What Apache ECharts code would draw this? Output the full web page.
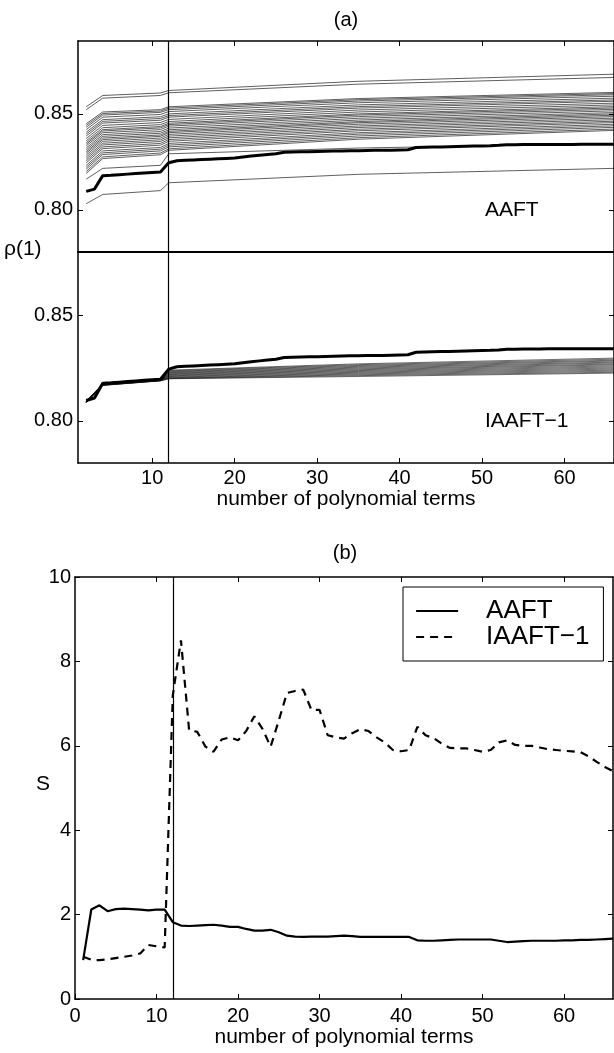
<!DOCTYPE html>
<html>
<head>
<meta charset="utf-8">
<script src="https://cdn.jsdelivr.net/npm/echarts@6/dist/echarts.min.js"></script>
<style>
  html, body { margin: 0; padding: 0; background: #fff; }
  #chart { width: 614px; height: 1053px; }
</style>
</head>
<body>
<div id="chart"></div>
<script>
const FONT = '"Liberation Sans", Arial, Helvetica, sans-serif';

// (a) rho(1) of the data versus number of polynomial terms (starts at 2 terms)
const rhoData = [
  0.8096, 0.8108, 0.8178, 0.8180, 0.8183, 0.8186, 0.8189, 0.8192, 0.8195, 0.8197,
  0.8245, 0.8256, 0.8258, 0.8260, 0.8262, 0.8264, 0.8266, 0.8268, 0.8270,
  0.8275, 0.8280, 0.8284, 0.8288, 0.8292, 0.8300, 0.8301, 0.8302, 0.8303, 0.8304,
  0.8305, 0.8306, 0.8307, 0.8308, 0.8308, 0.8309, 0.8310, 0.8310, 0.8311, 0.8312, 0.8313,
  0.8325, 0.8326, 0.8327, 0.8328, 0.8329, 0.8330, 0.8331, 0.8332, 0.8333, 0.8334,
  0.8336, 0.8339, 0.8339, 0.8340, 0.8340, 0.8340, 0.8341, 0.8341, 0.8341, 0.8341,
  0.8342, 0.8342, 0.8342, 0.8342, 0.8342
];

// surrogate curves, read at these numbers of terms
const surrTerms = [2, 4, 11, 12, 35, 66];

const aaftSurr = [
  [0.8537, 0.8596, 0.8609, 0.8622, 0.8670, 0.8707],
  [0.8522, 0.8582, 0.8596, 0.8610, 0.8655, 0.8690],
  [0.8449, 0.8510, 0.8522, 0.8537, 0.8580, 0.8612],
  [0.8440, 0.8502, 0.8515, 0.8530, 0.8574, 0.8606],
  [0.8430, 0.8494, 0.8508, 0.8522, 0.8567, 0.8600],
  [0.8418, 0.8483, 0.8497, 0.8512, 0.8558, 0.8592],
  [0.8405, 0.8470, 0.8485, 0.8500, 0.8547, 0.8582],
  [0.8395, 0.8461, 0.8476, 0.8491, 0.8538, 0.8573],
  [0.8385, 0.8452, 0.8467, 0.8483, 0.8530, 0.8566],
  [0.8372, 0.8440, 0.8455, 0.8471, 0.8520, 0.8556],
  [0.8360, 0.8428, 0.8444, 0.8460, 0.8510, 0.8547],
  [0.8350, 0.8418, 0.8434, 0.8451, 0.8500, 0.8538],
  [0.8342, 0.8411, 0.8427, 0.8444, 0.8494, 0.8531],
  [0.8333, 0.8402, 0.8418, 0.8436, 0.8486, 0.8524],
  [0.8322, 0.8392, 0.8408, 0.8426, 0.8477, 0.8516],
  [0.8312, 0.8383, 0.8399, 0.8417, 0.8468, 0.8507],
  [0.8303, 0.8374, 0.8390, 0.8409, 0.8460, 0.8500],
  [0.8295, 0.8366, 0.8383, 0.8402, 0.8454, 0.8493],
  [0.8285, 0.8357, 0.8374, 0.8393, 0.8446, 0.8486],
  [0.8275, 0.8347, 0.8365, 0.8384, 0.8437, 0.8478],
  [0.8265, 0.8338, 0.8356, 0.8375, 0.8429, 0.8470],
  [0.8255, 0.8328, 0.8346, 0.8366, 0.8420, 0.8462],
  [0.8245, 0.8319, 0.8337, 0.8357, 0.8412, 0.8455],
  [0.8232, 0.8307, 0.8325, 0.8346, 0.8402, 0.8446],
  [0.8222, 0.8297, 0.8316, 0.8337, 0.8394, 0.8438],
  [0.8212, 0.8288, 0.8307, 0.8328, 0.8385, 0.8430],
  [0.8200, 0.8276, 0.8296, 0.8318, 0.8376, 0.8421],
  [0.8190, 0.8267, 0.8287, 0.8310, 0.8368, 0.8414],
  [0.8160, 0.8216, 0.8232, 0.8292, 0.8322, 0.8345],
  [0.8032, 0.8080, 0.8100, 0.8141, 0.8185, 0.8216]
];

const iaaftSurr = [
  [0.8093, 0.8175, 0.8195, 0.8240, 0.8270, 0.8297],
  [0.8093, 0.8175, 0.8195, 0.8237, 0.8266, 0.8292],
  [0.8092, 0.8174, 0.8194, 0.8234, 0.8262, 0.8287],
  [0.8092, 0.8174, 0.8194, 0.8231, 0.8258, 0.8283],
  [0.8091, 0.8173, 0.8194, 0.8228, 0.8254, 0.8278],
  [0.8091, 0.8173, 0.8193, 0.8225, 0.8250, 0.8274],
  [0.8090, 0.8172, 0.8193, 0.8222, 0.8246, 0.8269],
  [0.8090, 0.8172, 0.8193, 0.8219, 0.8242, 0.8265],
  [0.8089, 0.8171, 0.8192, 0.8216, 0.8238, 0.8260],
  [0.8089, 0.8171, 0.8192, 0.8213, 0.8234, 0.8255],
  [0.8088, 0.8170, 0.8192, 0.8210, 0.8230, 0.8250],
  [0.8088, 0.8170, 0.8191, 0.8207, 0.8226, 0.8245],
  [0.8087, 0.8169, 0.8191, 0.8204, 0.8222, 0.8240],
  [0.8087, 0.8169, 0.8190, 0.8202, 0.8218, 0.8235],
  [0.8086, 0.8168, 0.8190, 0.8200, 0.8214, 0.8230],
  [0.8086, 0.8168, 0.8189, 0.8199, 0.8210, 0.8226]
];

// (b) significance S, 1..66 terms
const sAAFT = [
  0.92, 2.12, 2.22, 2.08, 2.13, 2.14, 2.13, 2.12, 2.10, 2.12,
  2.12, 1.82, 1.74, 1.73, 1.74, 1.75, 1.76, 1.74, 1.71, 1.71,
  1.66, 1.62, 1.62, 1.64, 1.58, 1.50, 1.48, 1.47, 1.48, 1.48,
  1.48, 1.49, 1.50, 1.49, 1.47, 1.47, 1.47, 1.47, 1.47, 1.47,
  1.47, 1.39, 1.38, 1.38, 1.39, 1.40, 1.41, 1.41, 1.41, 1.41,
  1.41, 1.38, 1.35, 1.36, 1.37, 1.38, 1.38, 1.38, 1.38, 1.39,
  1.39, 1.40, 1.40, 1.41, 1.42, 1.43
];
const sIAAFT = [
  1.00, 0.93, 0.92, 0.94, 0.97, 1.00, 1.03, 1.08, 1.28, 1.25,
  1.22, 7.20, 8.50, 6.37, 6.33, 5.98, 5.86, 6.15, 6.20, 6.13,
  6.35, 6.70, 6.40, 5.98, 6.60, 7.25, 7.30, 7.33, 6.85, 6.85,
  6.25, 6.20, 6.17, 6.30, 6.39, 6.35, 6.20, 6.08, 5.90, 5.87,
  5.90, 6.45, 6.25, 6.18, 6.05, 5.95, 5.94, 5.94, 5.90, 5.86,
  5.90, 6.08, 6.13, 6.02, 6.00, 6.00, 5.96, 5.92, 5.90, 5.88,
  5.87, 5.85, 5.75, 5.62, 5.50, 5.40
];

const xTicksA = [10, 20, 30, 40, 50, 60];
const xTicksB = [0, 10, 20, 30, 40, 50, 60];
const yTicksA = [0.80, 0.85];
const yTicksB = [0, 2, 4, 6, 8, 10];
const cutTerms = 12;

const myChart = echarts.init(document.getElementById('chart'), null, { renderer: 'canvas' });

const black = '#000';
const lineCol = { color: black, width: 1.5 };
const tickIn = (vals) => ({ show: true, inside: true, length: 5, customValues: vals, lineStyle: { color: black, width: 1 } });
const noTick = { show: false };
const noLabel = { show: false };
const labelStyle = { color: black, fontFamily: FONT, fontSize: 20 };

function xAx(grid, min, max, opts) {
  return Object.assign({
    type: 'value', gridIndex: grid, min: min, max: max,
    axisLine: { show: true, onZero: false, lineStyle: lineCol },
    axisTick: noTick, axisLabel: noLabel, splitLine: { show: false }
  }, opts);
}
function yAx(grid, min, max, opts) {
  return Object.assign({
    type: 'value', gridIndex: grid, min: min, max: max,
    axisLine: { show: true, onZero: false, lineStyle: lineCol },
    axisTick: noTick, axisLabel: noLabel, splitLine: { show: false }
  }, opts);
}

const xName = {
  name: 'number of polynomial terms', nameLocation: 'middle',
  nameTextStyle: { color: black, fontFamily: FONT, fontSize: 21 }
};

const xAxis = [
  xAx(0, 1, 66, { axisLine: { show: true, onZero: false, lineStyle: { color: black, width: 2 } } }),
  xAx(0, 1, 66, { position: 'top', axisTick: tickIn(xTicksA) }),
  xAx(1, 1, 66, Object.assign({
    axisTick: tickIn(xTicksA),
    axisLabel: Object.assign({ show: true, margin: 5, customValues: xTicksA }, labelStyle),
    nameGap: 21
  }, xName)),
  xAx(1, 1, 66, { position: 'top' }),
  xAx(2, 0, 66, Object.assign({
    axisTick: tickIn(xTicksB),
    axisLabel: Object.assign({ show: true, margin: 7, customValues: xTicksB }, labelStyle),
    nameGap: 27
  }, xName)),
  xAx(2, 0, 66, { position: 'top', axisTick: tickIn(xTicksA) })
];

const fmt2 = (v) => v.toFixed(2);
const yAxis = [
  yAx(0, 0.778, 0.888, {
    axisTick: tickIn(yTicksA),
    axisLabel: Object.assign({ show: true, margin: 5, customValues: yTicksA, formatter: fmt2 }, labelStyle)
  }),
  yAx(0, 0.778, 0.888, { position: 'right', axisTick: tickIn(yTicksA) }),
  yAx(1, 0.78, 0.88, {
    axisTick: tickIn(yTicksA),
    axisLabel: Object.assign({ show: true, margin: 5, customValues: yTicksA, formatter: fmt2 }, labelStyle)
  }),
  yAx(1, 0.78, 0.88, { position: 'right', axisTick: tickIn(yTicksA) }),
  yAx(2, 0, 10, {
    axisTick: tickIn(yTicksB),
    axisLabel: Object.assign({ show: true, margin: 4, customValues: yTicksB }, labelStyle)
  }),
  yAx(2, 0, 10, { position: 'right', axisTick: tickIn([2, 4, 6, 8]) })
];

const cutLine = {
  silent: true, symbol: ['none', 'none'], animation: false,
  label: { show: false },
  lineStyle: { color: black, width: 1.2, type: 'solid' },
  data: [{ xAxis: cutTerms }]
};

const series = [];

function surrSeries(rows, xi, yi, style) {
  rows.forEach((row) => {
    series.push({
      type: 'line', xAxisIndex: xi, yAxisIndex: yi, silent: true,
      symbol: 'none', data: row.map((y, i) => [surrTerms[i], y]),
      lineStyle: style, z: 2
    });
  });
}

surrSeries(aaftSurr, 0, 0, { color: '#000', width: 0.9, opacity: 0.7 });
series.push({
  type: 'line', xAxisIndex: 0, yAxisIndex: 0, symbol: 'none', z: 3,
  data: rhoData.map((y, i) => [i + 2, y]),
  lineStyle: { color: black, width: 3 },
  markLine: cutLine
});

surrSeries(iaaftSurr, 2, 2, { color: '#111', width: 1, opacity: 0.6 });
series.push({
  type: 'line', xAxisIndex: 2, yAxisIndex: 2, symbol: 'none', z: 3,
  data: rhoData.map((y, i) => [i + 2, y]),
  lineStyle: { color: black, width: 3 },
  markLine: cutLine
});

series.push({
  name: 'AAFT', type: 'line', xAxisIndex: 4, yAxisIndex: 4, symbol: 'none', z: 3,
  color: black,
  data: sAAFT.map((y, i) => [i + 1, y]),
  lineStyle: { color: black, width: 2.2, type: 'solid' },
  markLine: cutLine
});
series.push({
  name: 'IAAFT\u22121', type: 'line', xAxisIndex: 4, yAxisIndex: 4, symbol: 'none', z: 3,
  color: black,
  data: sIAAFT.map((y, i) => [i + 1, y]),
  lineStyle: { color: black, width: 2.2, type: [8, 6] }
});

const txt = (text, x, y, size, align) => ({
  type: 'text', x: x, y: y, silent: true,
  style: { text: text, fill: black, fontFamily: FONT, fontSize: size, align: align || 'center', verticalAlign: 'middle' }
});

const option = {
  animation: false,
  backgroundColor: '#fff',
  grid: [
    { left: 78, top: 41, width: 540, height: 211 },
    { left: 78, top: 252, width: 540, height: 211 },
    { left: 75, top: 577, width: 538, height: 422 }
  ],
  xAxis: xAxis,
  yAxis: yAxis,
  legend: {
    data: ['AAFT', 'IAAFT\u22121'],
    orient: 'vertical', left: 403, top: 587,
    itemWidth: 42, itemHeight: 14, itemGap: 0,
    padding: [11, 14, 11, 12],
    borderColor: black, borderWidth: 1, borderRadius: 0,
    backgroundColor: '#fff',
    selectedMode: false,
    itemStyle: { opacity: 0 },
    lineStyle: { width: 2.2 },
    textStyle: { color: black, fontFamily: FONT, fontSize: 26, lineHeight: 24, padding: [0, 0, 0, 23] }
  },
  graphic: [
    txt('(a)', 346, 20, 20),
    txt('(b)', 345, 553, 20),
    txt('\u03c1(1)', 4, 249, 21, 'left'),
    txt('S', 43, 784, 21),
    txt('AAFT', 485, 210, 21, 'left'),
    txt('IAAFT\u22121', 485, 421, 21, 'left')
  ],
  series: series
};

myChart.setOption(option);
</script>
</body>
</html>
